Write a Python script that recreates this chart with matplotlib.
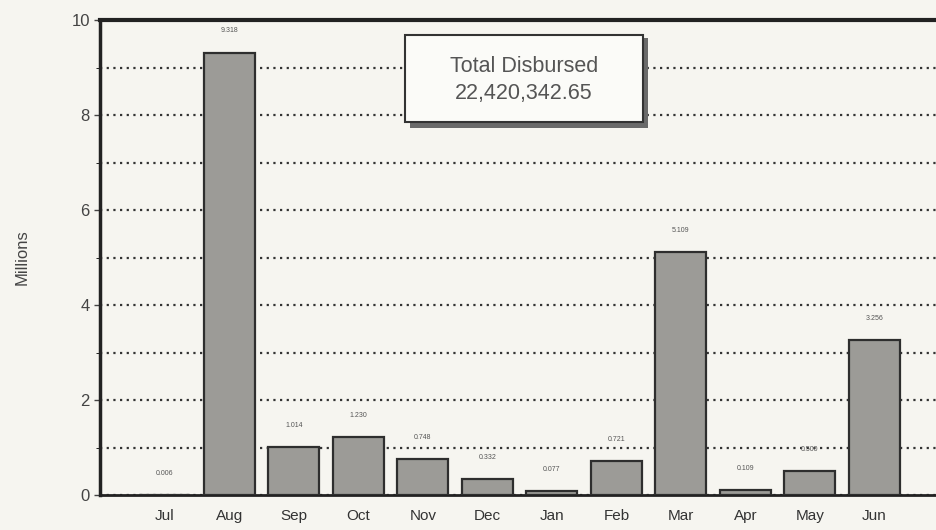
import matplotlib.pyplot as plt
import numpy as np

plt.rcParams['font.family'] = ['Liberation Sans', 'DejaVu Sans']

months = ['Jul', 'Aug', 'Sep', 'Oct', 'Nov', 'Dec', 'Jan', 'Feb', 'Mar', 'Apr', 'May', 'Jun']
disbursed = [0.006, 9.318, 1.014, 1.230, 0.748, 0.332, 0.077, 0.721, 5.109, 0.109, 0.500, 3.256]
value_labels = ['0.006', '9.318', '1.014', '1.230', '0.748', '0.332', '0.077', '0.721',
                '5.109', '0.109', '0.500', '3.256']
total_text = 'Total Disbursed\n22,420,342.65'

bg = '#f6f5f0'
fig = plt.figure(figsize=(9.37, 5.30), dpi=100, facecolor=bg)
ax = fig.add_axes([0.107, 0.066, 0.893, 0.896], facecolor=bg)

x = np.arange(len(months))
ax.bar(x, disbursed, width=0.79, color='#9c9b97', edgecolor='#2e2e2e', linewidth=1.6, zorder=3)
for xi, v, lab in zip(x, disbursed, value_labels):
    ax.text(xi, v + 0.38, lab, ha='center', va='bottom', fontsize=5, color='#555555', zorder=4)

ax.set_xlim(-1, 11.97)
ax.set_ylim(0, 10)
ax.set_xticks(x)
ax.set_xticklabels(months, fontsize=11, color='#333333')
ax.set_yticks(range(0, 11, 2))
ax.set_yticks(range(1, 10, 2), minor=True)
ax.tick_params(axis='y', labelsize=12, colors='#444444', length=4, width=1)
ax.tick_params(axis='y', which='minor', length=3)
ax.tick_params(axis='x', length=0, pad=10)
ax.grid(axis='y', which='both', linestyle=(0, (1.0, 2.0)), color='#333333', linewidth=1.6, zorder=1)

ax.spines['top'].set_linewidth(3)
ax.spines['left'].set_linewidth(2.5)
ax.spines['bottom'].set_linewidth(2)
ax.spines['right'].set_visible(False)
for s in ['top', 'left', 'bottom']:
    ax.spines[s].set_color('#222222')

ax.set_ylabel('Millions', fontsize=12, color='#444444', labelpad=30)

# text box with shadow
ax.add_patch(plt.Rectangle((0.370, 0.772), 0.285, 0.19, transform=ax.transAxes,
                           facecolor='#6a6a6a', edgecolor='none', zorder=5))
ax.add_patch(plt.Rectangle((0.364, 0.785), 0.285, 0.183, transform=ax.transAxes,
                           facecolor='#fbfbf8', edgecolor='#333333', linewidth=1.5, zorder=6))
ax.text(0.5065, 0.874, total_text, transform=ax.transAxes, ha='center', va='center',
        fontsize=15.5, color='#555555', linespacing=1.38, zorder=7)

fig.savefig('out.png', dpi=100, facecolor=bg)
